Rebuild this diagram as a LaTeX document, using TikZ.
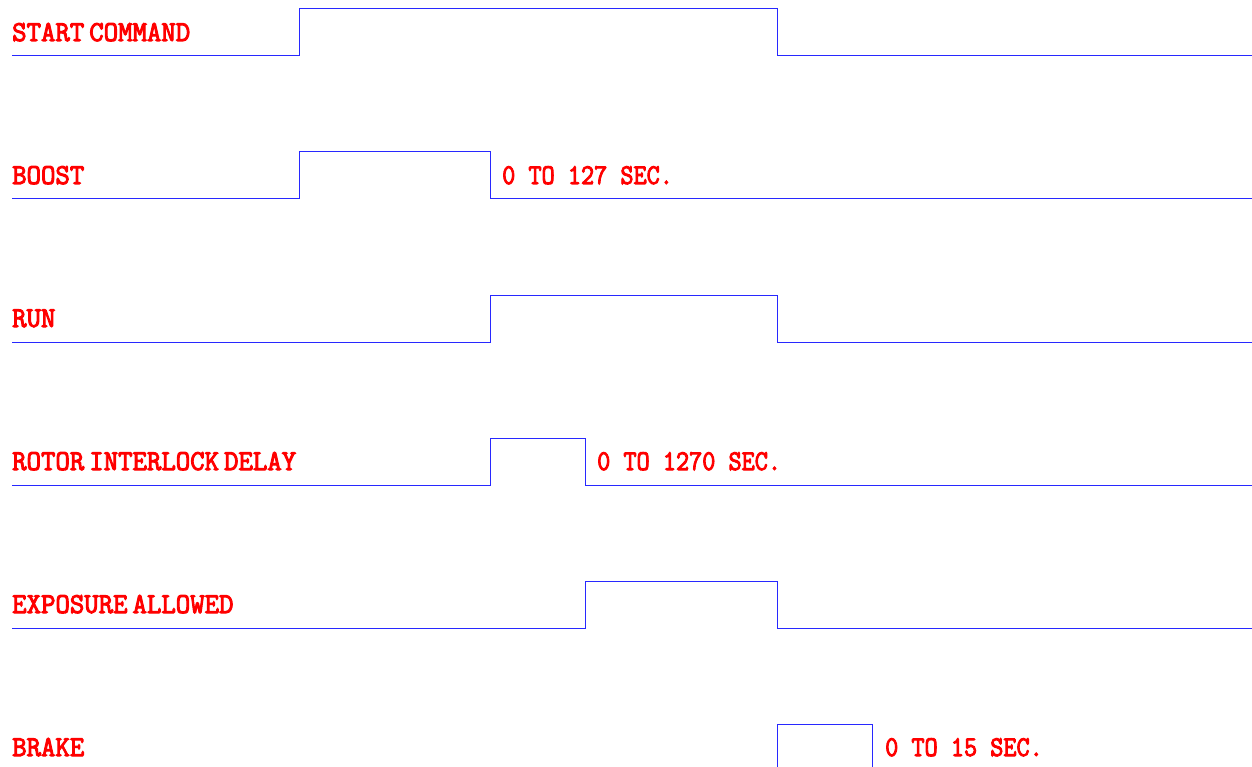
\documentclass[tikz,border=0pt]{standalone}
\usepackage{fontspec}
\newfontfamily\lblfont{Latin Modern Mono}[FakeBold=3.5]
\newcommand\sigsp{\hspace{5pt}}
\begin{document}
\begin{tikzpicture}[x=1pt,y=-1pt,
  wave/.style={draw={rgb,255:red,40;green,40;blue,255},line width=1pt},
  lbl/.style={anchor=base west,inner sep=0pt,text={rgb,255:red,255;green,0;blue,0},
    font=\lblfont\fontsize{25.5}{27}\selectfont,yscale=1.12},
  signame/.style={anchor=base west,inner sep=0pt,text={rgb,255:red,255;green,0;blue,0},
    font=\lblfont\fontsize{28}{30}\selectfont,yscale=1.03}]
\useasboundingbox (0,0) rectangle (1252,767);
\begin{scope}
\clip (0,0) rectangle (1252,767);
% START COMMAND
\node[signame] (l1) at (12,41) {START\sigsp COMMAND};
\draw[wave] (12,56) -- (299,56) -- (299,9) -- (777,9) -- (777,56) -- (1252,56);
% BOOST
\node[signame] (l2) at (12,184) {BOOST};
\draw[wave] (12,199) -- (299,199) -- (299,152) -- (490,152) -- (490,199) -- (1252,199);
\node[lbl] (t2) at (502,184) {0 TO 127 SEC.};
% RUN
\node[signame] (l3) at (12,327) {RUN};
\draw[wave] (12,342) -- (490,342) -- (490,295) -- (777,295) -- (777,342) -- (1252,342);
% ROTOR INTERLOCK DELAY
\node[signame] (l4) at (12,470) {ROTOR\sigsp INTERLOCK\sigsp DELAY};
\draw[wave] (12,485) -- (490,485) -- (490,438) -- (585,438) -- (585,485) -- (1252,485);
\node[lbl] (t4) at (597,470) {0 TO 1270 SEC.};
% EXPOSURE ALLOWED
\node[signame] (l5) at (12,613) {EXPOSURE\sigsp ALLOWED};
\draw[wave] (12,628) -- (585,628) -- (585,581) -- (777,581) -- (777,628) -- (1252,628);
% BRAKE
\node[signame] (l6) at (12,756) {BRAKE};
\draw[wave] (12,771) -- (777,771) -- (777,724) -- (872,724) -- (872,771) -- (1252,771);
\node[lbl] (t6) at (885,756) {0 TO 15 SEC.};
\end{scope}
\end{tikzpicture}
\end{document}
